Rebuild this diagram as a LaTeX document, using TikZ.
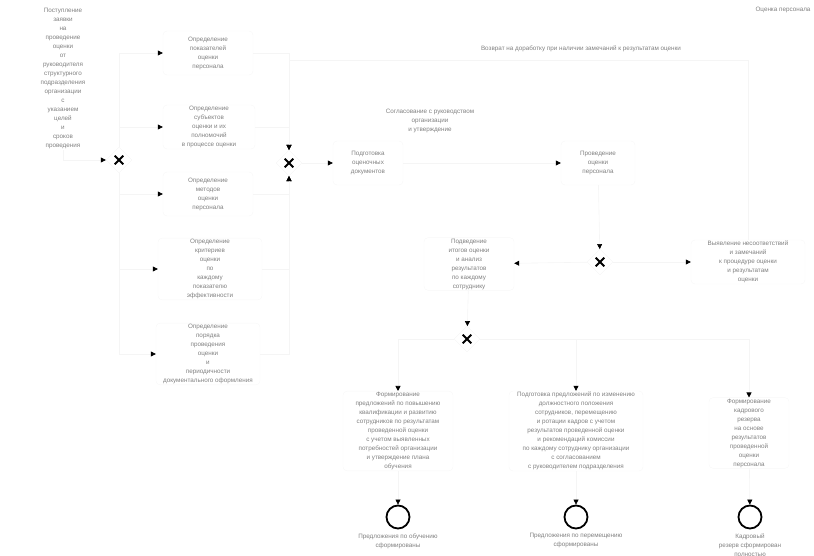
\documentclass[tikz,border=0pt]{standalone}
\usepackage{fontspec}
\setmainfont{Liberation Sans}
\usepackage{tikz}
\usetikzlibrary{positioning,calc,shapes.geometric,arrows.meta}

\tikzset{
  txt/.style={align=center,text=black!50,font=\fontsize{6.3}{9}\selectfont,inner sep=1pt},
  task/.style={txt,draw=black!3,rounded corners=4pt,minimum height=44pt},
  gw/.style={diamond,draw=black!4,minimum size=26pt,inner sep=0pt,
    path picture={\draw[line width=1.9pt,black]
      ([shift={(-4.3pt,-4.3pt)}]path picture bounding box.center) -- ([shift={(4.3pt,4.3pt)}]path picture bounding box.center)
      ([shift={(-4.3pt,4.3pt)}]path picture bounding box.center) -- ([shift={(4.3pt,-4.3pt)}]path picture bounding box.center);}},
  endev/.style={circle,draw=black,line width=1.8pt,minimum size=23pt,inner sep=0pt},
  flow/.style={draw=black!4,line width=0.6pt,->},
  hv/.style={to path={-| (\tikztotarget) \tikztonodes}},
  vh/.style={to path={|- (\tikztotarget) \tikztonodes}}
}

\begin{document}
\begin{tikzpicture}[x=1pt,y=-1pt,>={Triangle[length=5pt,width=5pt,color=black]}]
  \useasboundingbox (0,0) rectangle (814,556);
  \node[txt] (ttl) at (783,10) {Оценка персонала};
  \node[txt] (st) at (63,78) {Поступление\\заявки\\на\\проведение\\оценки\\от\\руководителя\\структурного\\подразделения\\организации\\с\\указанием\\целей\\и\\сроков\\проведения};
  \node[gw] (g1) at (119,160) {};
  \node[task,minimum width=90pt] (nA) at (208,53) {Определение\\показателей\\оценки\\персонала};
  \node[task,minimum width=92pt] (nB) at (209,127) {Определение\\субъектов\\оценки и их\\полномочий\\в процессе оценки};
  \node[task,minimum width=90pt] (nC) at (208,194) {Определение\\методов\\оценки\\персонала};
  \node[task,minimum width=104pt] (nD) at (210,269) {Определение\\критериев\\оценки\\по\\каждому\\показателю\\эффективности};
  \node[task,minimum width=104pt] (nE) at (208,354) {Определение\\порядка\\проведения\\оценки\\и\\периодичности\\документального оформления};
  \node[gw] (g2) at (289,163) {};
  \node[task,minimum width=70pt] (nF) at (368,163) {Подготовка\\оценочных\\документов};
  \node[txt] (l1) at (430,121) {Согласование с руководством\\организации\\и утверждение};
  \node[txt] (l2) at (581,49) {Возврат на доработку при наличии замечаний к результатам оценки};
  \node[task,minimum width=74pt] (nG) at (598,163) {Проведение\\оценки\\персонала};
  \node[gw] (g3) at (600,262) {};
  \node[task,minimum width=90pt] (nH) at (469,264) {Подведение\\итогов оценки\\и анализ\\результатов\\по каждому\\сотруднику};
  \node[task,minimum width=114pt] (nI) at (748,262) {Выявление несоответствий\\и замечаний\\к процедуре оценки\\и результатам\\оценки};
  \node[gw] (g4) at (467,339) {};
  \node[task,minimum width=110pt] (nJ) at (398,431) {Формирование\\предложений по повышению\\квалификации и развитию\\сотрудников по результатам\\проведенной оценки\\с учетом выявленных\\потребностей организации\\и утверждение плана\\обучения};
  \node[task,minimum width=134pt] (nK) at (576,431) {Подготовка предложений по изменению\\должностного положения\\сотрудников, перемещению\\и ротации кадров с учетом\\результатов проведенной оценки\\и рекомендаций комиссии\\по каждому сотруднику организации\\с согласованием\\с руководителем подразделения};
  \node[task,minimum width=80pt] (nL) at (749,433) {Формирование\\кадрового\\резерва\\на основе\\результатов\\проведенной\\оценки\\персонала};
  \node[endev,label={[txt,label distance=3pt]below:{Предложения по обучению\\сформированы}}] (e1) at (398,517) {};
  \node[endev,label={[txt,label distance=3pt]below:{Предложения по перемещению\\сформированы}}] (e2) at (576,517) {};
  \node[endev,label={[txt,label distance=3pt]below:{Кадровый\\резерв сформирован\\полностью}}] (e3) at (750,517) {};
  \coordinate (lp) at (289,60);
  \path[flow] (st) edge[vh] (g1)
            (g1) edge[vh] (nA) (g1) edge[vh] (nB) (g1) edge[vh] (nC)
            (g1) edge[vh] (nD) (g1) edge[vh] (nE)
            (nA) edge[hv] (g2) (nB) edge[hv] (g2) (nC) edge[hv] (g2)
            (nD) edge[hv] (g2) (nE) edge[hv] (g2)
            (g2) edge (nF) (nF) edge (nG) (nG) edge (g3)
            (g3) edge (nH) (g3) edge (nI)
            (nH) edge (g4)
            (g4) edge[hv] (nJ) (g4) edge[hv] (nK) (g4) edge[hv] (nL)
            (nJ) edge (e1) (nK) edge (e2) (nL) edge (e3);
  \draw[flow] (nI) |- (lp) -- (g2);
\end{tikzpicture}
\end{document}
